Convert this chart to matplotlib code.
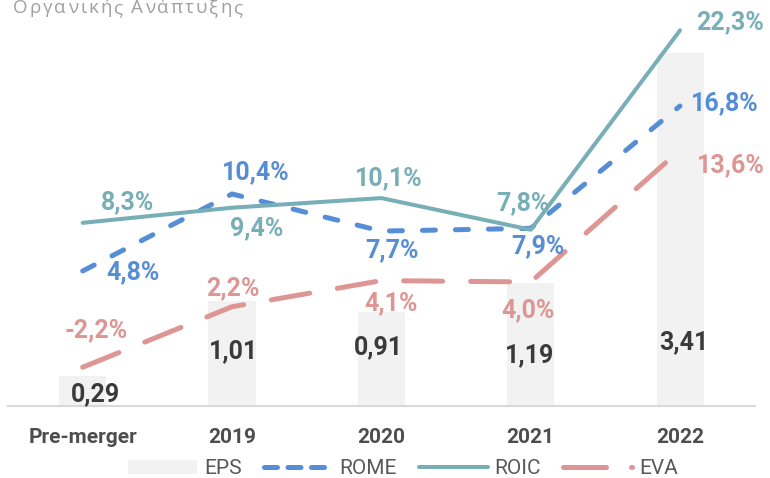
import matplotlib.pyplot as plt
from matplotlib.lines import Line2D

# Données du graphique
categories = ['Pre-merger', '2019', '2020', '2021', '2022']
eps = [0.29, 1.01, 0.91, 1.19, 3.41]
rome = [4.8, 10.4, 7.7, 7.9, 16.8]
roic = [8.3, 9.4, 10.1, 7.8, 22.3]
eva = [-2.2, 2.2, 4.1, 4.0, 13.6]
title = 'Οργανικής Ανάπτυξης'

# Couleurs
c_bar = '#F2F2F2'
c_rome = '#568ED6'
c_roic = '#78AFB7'
c_eva = '#DD9694'

plt.rcParams['font.family'] = ['Roboto', 'DejaVu Sans']

fig = plt.figure(figsize=(7.7, 4.78), dpi=100)
ax = fig.add_axes([8 / 770, 72 / 478, 746.7 / 770, 386 / 478])
ax.set_xlim(-0.5, 4.5)
ax.set_ylim(0, 3.729)
ax2 = ax.twinx()
ax2.set_ylim(-5.018, 23.05)

x = list(range(len(categories)))

# Barres EPS
bars = ax.bar(x, eps, width=0.315, color=c_bar, label='EPS')

# Lignes sur l'axe secondaire
ax2.plot(x, rome, color=c_rome, lw=3.6, linestyle=(0, (2.6, 4.0)),
         dash_capstyle='round')
ax2.plot(x, roic, color=c_roic, lw=2.9, solid_capstyle='round',
         solid_joinstyle='round')
ax2.plot(x, eva, color=c_eva, lw=3.6, linestyle=(0, (7.8, 5.6)),
         dash_capstyle='round')

# Étiquettes (décalages en pixels)
eps_off = [(13, -18), (2, -50), (-3, -35), (-1, -72), (4, -289)]
rome_off = [(50, -1), (24, 22), (11, -19), (7, -18), (45, 3)]
roic_off = [(45, 21), (25, -20), (7, 20), (-8, 27), (50, 8)]
eva_off = [(14, 37), (1, 19), (10, -23), (-3, -28), (51, -15)]

for i, v in enumerate(eps):
    ax.annotate(f'{v:.2f}'.replace('.', ','), (i, v), xytext=eps_off[i],
                textcoords='offset pixels', ha='center', va='center',
                fontsize=18, fontweight='bold', color='#3A3A3A')

for vals, offs, col in [(rome, rome_off, c_rome), (roic, roic_off, c_roic),
                        (eva, eva_off, c_eva)]:
    for i, v in enumerate(vals):
        ax2.annotate(f'{v:.1f}%'.replace('.', ','), (i, v), xytext=offs[i],
                     textcoords='offset pixels', ha='center', va='center',
                     fontsize=18, fontweight='bold', color=col)

# Axes
for s in ax.spines.values():
    s.set_visible(False)
for s in ax2.spines.values():
    s.set_visible(False)
ax.spines['bottom'].set_visible(True)
ax.spines['bottom'].set_color('#D9D9D9')
ax.spines['bottom'].set_linewidth(1.5)
ax.set_yticks([])
ax2.set_yticks([])
ax.set_xticks(x)
ax.set_xticklabels(categories, fontsize=15, fontweight='bold', color='#4D4D4D')
ax.tick_params(axis='x', length=0, pad=16)

# Légende (poignées dessinées à part pour imiter Excel)
h_rome = Line2D([], [], color=c_rome, lw=3.6, linestyle=(0, (2.6, 2.1)),
                dash_capstyle='round')
h_roic = Line2D([], [], color=c_roic, lw=2.9, solid_capstyle='round')
h_eva = Line2D([], [], color=c_eva, lw=3.6, linestyle=(0, (8.6, 5.0)),
               dash_capstyle='round')
fig.legend([bars, h_rome, h_roic, h_eva], ['EPS', 'ROME', 'ROIC', 'EVA'],
           loc='center', bbox_to_anchor=(403 / 770, 0.019), ncol=4,
           frameon=False, fontsize=15, labelcolor='#595959',
           handlelength=3.3, handletextpad=0.34, columnspacing=1.05)

# Titre coupé en haut, avec espacement des lettres
renderer = fig.canvas.get_renderer()
xpos = 13.0
for ch in title:
    if ch == ' ':
        xpos += 6.5
        continue
    t = fig.text(xpos / 770, 1 - 13.3 / 478, ch, fontsize=13.5, color='#A0A0A0',
                 family=['Open Sans', 'DejaVu Sans'], va='baseline', ha='left')
    xpos += t.get_window_extent(renderer).width + 2.0

fig.savefig('out.png', dpi=100)
